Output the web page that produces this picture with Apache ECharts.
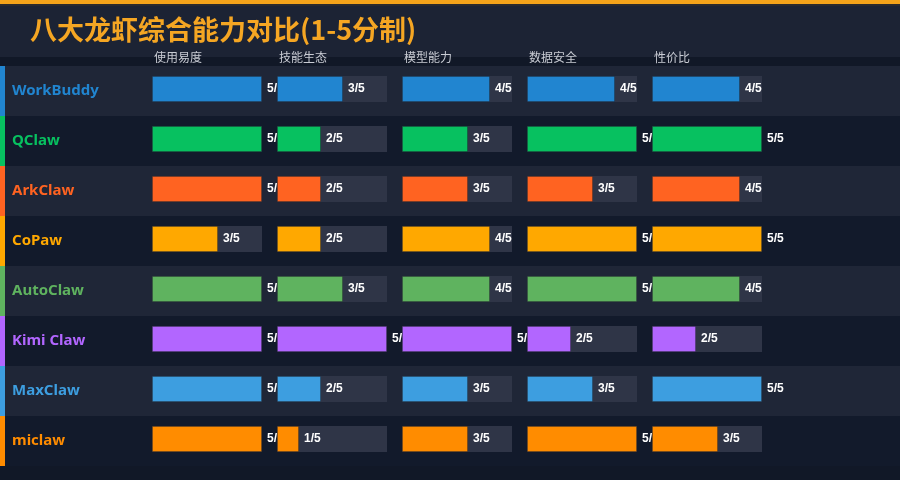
<!DOCTYPE html>
<html>
<head>
<meta charset="utf-8">
<title>八大龙虾综合能力对比</title>
<script src="https://cdn.jsdelivr.net/npm/echarts@6/dist/echarts.min.js"></script>
<style>
  html, body { margin: 0; padding: 0; background: #111827; }
  #main { width: 900px; height: 480px; }
</style>
</head>
<body>
<div id="main"></div>
<script>
const products = ['WorkBuddy', 'QClaw', 'ArkClaw', 'CoPaw', 'AutoClaw', 'Kimi Claw', 'MaxClaw', 'miclaw'];
const dims = ['使用易度', '技能生态', '模型能力', '数据安全', '性价比'];
const rowColors = ['#2185d0', '#07c160', '#ff6321', '#ffa800', '#5fb35f', '#b266ff', '#3d9ee0', '#ff8c00'];

// scores 1-5, one array per dimension, in product order
const easeOfUse     = [5, 5, 5, 3, 5, 5, 5, 5];
const skillEco      = [3, 2, 2, 2, 3, 5, 2, 1];
const modelAbility  = [4, 3, 3, 4, 4, 5, 3, 3];
const dataSecurity  = [4, 5, 3, 5, 5, 2, 3, 5];
const valueForMoney = [4, 5, 4, 5, 4, 2, 5, 3];
const scores = [easeOfUse, skillEco, modelAbility, dataSecurity, valueForMoney];
const maxScore = 5;

const chart = echarts.init(document.getElementById('main'));

const colLeft = 152, colWidth = 110, colStep = 125;
const tableTop = 66, tableHeight = 400;

const grids = [
  // row stripes + names
  { left: 0, right: 0, top: tableTop, height: tableHeight },
  // coloured left border
  { left: 0, width: 5, top: tableTop, height: tableHeight }
];
const xAxes = [
  { gridIndex: 0, type: 'value', min: 0, max: 1, show: false },
  { gridIndex: 1, type: 'value', min: 0, max: 1, show: false }
];
const yAxes = [
  {
    gridIndex: 0, type: 'category', data: products, inverse: true,
    axisLine: { show: false }, axisTick: { show: false },
    axisLabel: {
      inside: true, margin: 12,
      fontSize: 15, fontWeight: 'bold', fontFamily: 'Noto Sans',
      color: (val, idx) => rowColors[idx]
    },
    splitLine: { show: false },
    splitArea: { show: true, areaStyle: { color: ['#1f2637', '#121a2b'] } }
  },
  { gridIndex: 1, type: 'category', data: products, inverse: true, show: false }
];
const series = [
  {
    type: 'bar', xAxisIndex: 1, yAxisIndex: 1, barWidth: '100%', silent: true,
    data: products.map((p, i) => ({ value: 1, itemStyle: { color: rowColors[i] } }))
  }
];

const titles = [{
  text: '八大龙虾综合能力对比(1-5分制)',
  left: 25, top: 11,
  textStyle: { color: '#f5a623', fontSize: 27, fontWeight: 'bold', fontFamily: 'Noto Sans CJK SC' }
}];

dims.forEach((d, i) => {
  const g = grids.length;
  grids.push({ left: colLeft + colStep * i, width: colWidth, top: tableTop - 2, height: tableHeight });
  xAxes.push({ gridIndex: g, type: 'value', min: 0, max: maxScore, show: false });
  yAxes.push({ gridIndex: g, type: 'category', data: products, inverse: true, show: false });
  series.push({
    name: d,
    type: 'bar',
    xAxisIndex: g, yAxisIndex: g,
    z: 3 + i,
    barWidth: 26,
    showBackground: true,
    backgroundStyle: { color: '#2f3547' },
    data: scores[i].map((v, k) => ({
      value: v,
      itemStyle: { color: rowColors[k], borderColor: 'rgba(0,0,0,0.2)', borderWidth: 1 }
    })),
    label: {
      show: true, position: 'right', distance: 5,
      formatter: '{c}/' + maxScore,
      color: '#ffffff', fontSize: 12, fontWeight: 'bold', fontFamily: 'Liberation Sans'
    }
  });
  titles.push({
    text: d, left: colLeft - 3 + colStep * i, top: 46,
    textStyle: { color: '#c9ccd4', fontSize: 12, fontWeight: 'normal', fontFamily: 'Noto Sans CJK SC' }
  });
});

chart.setOption({
  backgroundColor: '#111827',
  animation: false,
  graphic: [
    { type: 'rect', z: -10, shape: { x: 0, y: 0, width: 900, height: 57 }, style: { fill: '#1c2334' } },
    { type: 'rect', z: -10, shape: { x: 0, y: 0, width: 900, height: 4 }, style: { fill: '#f5a31a' } },
    { type: 'rect', z: -10, shape: { x: 0, y: 4, width: 900, height: 2 }, style: { fill: '#2a2a2e' } }
  ],
  title: titles,
  grid: grids,
  xAxis: xAxes,
  yAxis: yAxes,
  series: series
});
</script>
</body>
</html>
